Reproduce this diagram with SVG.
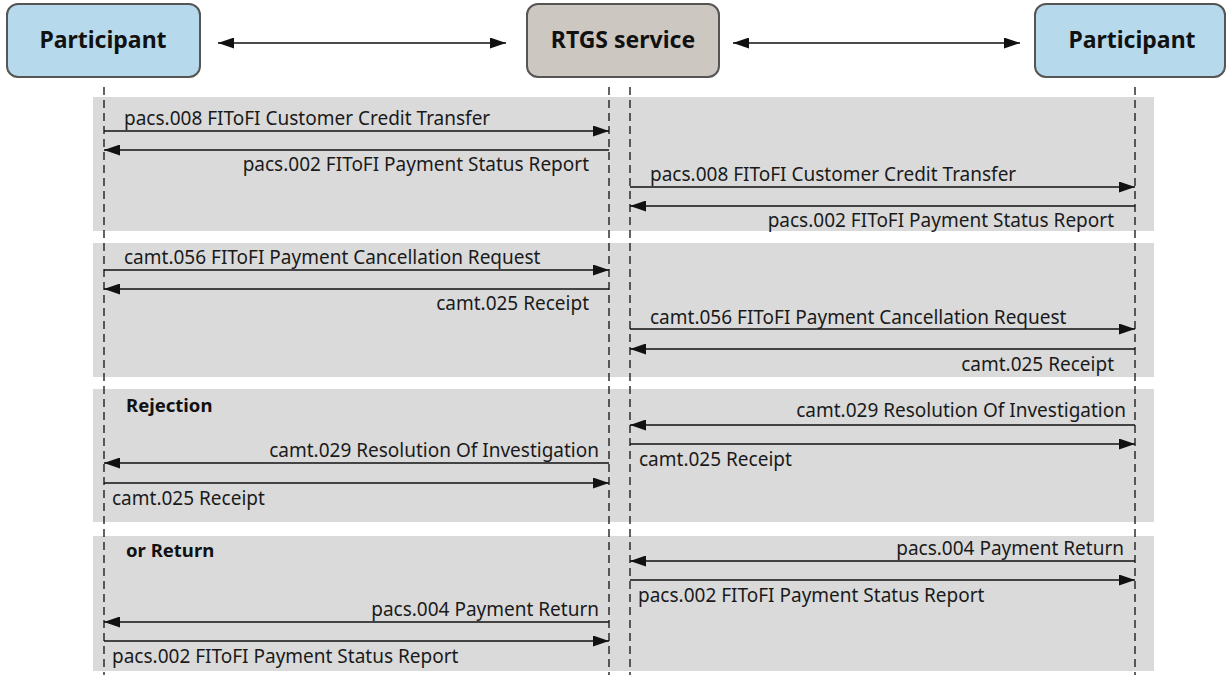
<svg xmlns="http://www.w3.org/2000/svg" width="1227" height="675" viewBox="0 0 1227 675">
<style>
.band{fill:#dadada}
.node{stroke:#555;stroke-width:2}
.p{fill:#b7d9ec}
.r{fill:#cdc7c1}
.title{font-family:"Noto Sans","Open Sans",sans-serif;font-weight:bold;font-size:23px;fill:#111;text-anchor:middle}
.life{stroke:#111;stroke-width:1.3;stroke-dasharray:8 5;fill:none}
.msg{stroke:#111;stroke-width:1.3;fill:none}
.fwd{marker-end:url(#ah)}
.lbl{font-family:"Noto Sans","Open Sans",sans-serif;font-size:19px;fill:#1a1a1a}
.end{text-anchor:end}
.hdr{font-family:"Noto Sans","Open Sans",sans-serif;font-size:18.5px;font-weight:bold;fill:#111}
</style>
<defs>
<marker id="ah" viewBox="0 0 16 11" refX="16" refY="5.5" markerWidth="16" markerHeight="11" markerUnits="userSpaceOnUse" orient="auto-start-reverse">
<path d="M0,0 L16,5.5 L0,11 Z" fill="#111"/>
</marker>
</defs>
<rect width="1227" height="675" fill="#fff"/>
<g id="bands">
<rect class="band" x="93" y="97" width="1061" height="134"/>
<rect class="band" x="93" y="243" width="1061" height="134"/>
<rect class="band" x="93" y="389" width="1061" height="133"/>
<rect class="band" x="93" y="536" width="1061" height="135"/>
</g>
<g id="node-left">
<rect class="node p" x="7" y="4" width="193" height="73" rx="11"/>
<text class="title" x="103" y="48">Participant</text>
</g>
<g id="node-rtgs">
<rect class="node r" x="527" y="4" width="192" height="73" rx="11"/>
<text class="title" x="623" y="48">RTGS service</text>
</g>
<g id="node-right">
<rect class="node p" x="1035" y="4" width="190" height="73" rx="11"/>
<text class="title" x="1132" y="48">Participant</text>
</g>
<g id="lifelines">
<line class="life" x1="104" y1="87" x2="104" y2="675"/>
<line class="life" x1="609" y1="87" x2="609" y2="675"/>
<line class="life" x1="630" y1="87" x2="630" y2="675"/>
<line class="life" x1="1135" y1="87" x2="1135" y2="675"/>
</g>
<g id="connectors">
<line class="msg" x1="218" y1="43" x2="506" y2="43" marker-start="url(#ah)" marker-end="url(#ah)"/>
<line class="msg" x1="733" y1="43" x2="1020" y2="43" marker-start="url(#ah)" marker-end="url(#ah)"/>
<line class="msg fwd" x1="104" y1="131" x2="609" y2="131"/>
<line class="msg fwd" x1="609" y1="150" x2="104" y2="150"/>
<line class="msg fwd" x1="630" y1="187" x2="1135" y2="187"/>
<line class="msg fwd" x1="1135" y1="206" x2="630" y2="206"/>
<line class="msg fwd" x1="104" y1="270" x2="609" y2="270"/>
<line class="msg fwd" x1="609" y1="289" x2="104" y2="289"/>
<line class="msg fwd" x1="630" y1="329" x2="1135" y2="329"/>
<line class="msg fwd" x1="1135" y1="349" x2="630" y2="349"/>
<line class="msg fwd" x1="1135" y1="425" x2="630" y2="425"/>
<line class="msg fwd" x1="630" y1="444" x2="1135" y2="444"/>
<line class="msg fwd" x1="609" y1="463" x2="104" y2="463"/>
<line class="msg fwd" x1="104" y1="483" x2="609" y2="483"/>
<line class="msg fwd" x1="1135" y1="561" x2="630" y2="561"/>
<line class="msg fwd" x1="630" y1="580" x2="1135" y2="580"/>
<line class="msg fwd" x1="609" y1="622" x2="104" y2="622"/>
<line class="msg fwd" x1="104" y1="641" x2="609" y2="641"/>
</g>
<g id="labels">
<text class="lbl" x="124" y="125">pacs.008 FIToFI Customer Credit Transfer</text>
<text class="lbl end" x="589" y="171">pacs.002 FIToFI Payment Status Report</text>
<text class="lbl" x="650" y="181">pacs.008 FIToFI Customer Credit Transfer</text>
<text class="lbl end" x="1114" y="227">pacs.002 FIToFI Payment Status Report</text>
<text class="lbl" x="124" y="264">camt.056 FIToFI Payment Cancellation Request</text>
<text class="lbl end" x="589" y="310">camt.025 Receipt</text>
<text class="lbl" x="650" y="324">camt.056 FIToFI Payment Cancellation Request</text>
<text class="lbl end" x="1114" y="371">camt.025 Receipt</text>
<text class="hdr" x="126" y="412">Rejection</text>
<text class="lbl end" x="1126" y="417">camt.029 Resolution Of Investigation</text>
<text class="lbl" x="639" y="466">camt.025 Receipt</text>
<text class="lbl end" x="599" y="457">camt.029 Resolution Of Investigation</text>
<text class="lbl" x="112" y="505">camt.025 Receipt</text>
<text class="hdr" x="126" y="557">or Return</text>
<text class="lbl end" x="1124" y="555">pacs.004 Payment Return</text>
<text class="lbl" x="638" y="602">pacs.002 FIToFI Payment Status Report</text>
<text class="lbl end" x="599" y="616">pacs.004 Payment Return</text>
<text class="lbl" x="112" y="663">pacs.002 FIToFI Payment Status Report</text>
</g>
</svg>
